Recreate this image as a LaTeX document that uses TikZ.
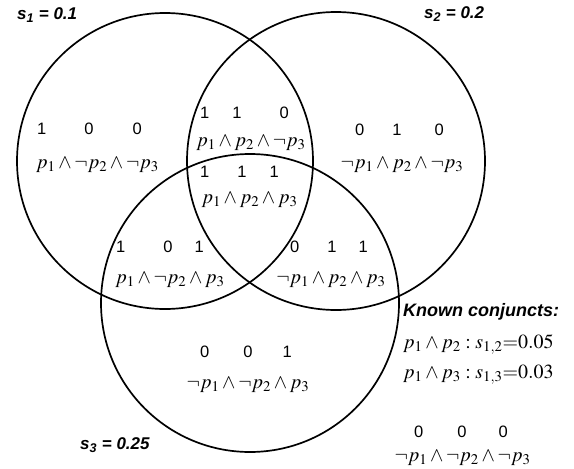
\documentclass[tikz,border=0pt]{standalone}
\usepackage{mathptmx}
\usepackage[no-math]{fontspec}
\setmainfont{Liberation Sans}

\tikzset{
  setcircle/.style={line width=1.7pt},
  bits/.style={inner sep=0pt, font=\fontsize{16.5}{18}\selectfont},
  conj/.style={inner sep=0pt, font=\fontsize{20}{22}\selectfont},
  setlabel/.style={inner sep=0pt, anchor=west, font=\fontsize{17}{19}\selectfont\bfseries\itshape},
}

\begin{document}
\begin{tikzpicture}[x=1pt, y=-1pt]
        % \draw[help lines, gray!50, very thin] (0,0) grid[step=50] (574,469);
        \useasboundingbox (0,0) rectangle (574,469);

        \draw[setcircle] (165,161) circle[radius=148pt];
        \draw[setcircle] (336,161) circle[radius=149pt];
        \draw[setcircle] (250,303) circle[radius=149pt];

        \node[setlabel] (lab1) at (17,15) {s\textsubscript{1} = 0.1};
        \node[setlabel] (lab2) at (424,14) {s\textsubscript{2} = 0.2};
        \node[setlabel] (lab3) at (80,445) {s\textsubscript{3} = 0.25};

        % only s1
        \node[bits] (d100) at (89.5,129) {1\hspace{38pt}0\hspace{39pt}0};
        \node[conj] (f100) at (97.5,165) {$p_1\wedge\neg p_2\wedge\neg p_3$};

        % s1 and s2
        \node[bits] (d110) at (244.5,113) {1\hspace{23pt}1\hspace{38pt}0};
        \node[conj] (f110) at (251,143) {$p_1\wedge p_2\wedge\neg p_3$};

        % all three
        \node[bits] (d111) at (239.5,172) {1\hspace{28pt}1\hspace{23pt}1};
        \node[conj] (f111) at (249.5,200) {$p_1\wedge p_2\wedge p_3$};

        % only s2
        \node[bits] (d010) at (399.5,130) {0\hspace{28pt}1\hspace{33pt}0};
        \node[conj] (f010) at (402,165) {$\neg p_1\wedge p_2\wedge\neg p_3$};

        % s1 and s3
        \node[bits] (d101) at (160,247) {1\hspace{38pt}0\hspace{22pt}1};
        \node[conj] (f101) at (170,280) {$p_1\wedge\neg p_2\wedge p_3$};

        % s2 and s3
        \node[bits] (d011) at (329,247) {0\hspace{28pt}1\hspace{22pt}1};
        \node[conj] (f011) at (331,280) {$\neg p_1\wedge p_2\wedge p_3$};

        % only s3
        \node[bits] (d001) at (246,352) {0\hspace{34pt}0\hspace{30pt}1};
        \node[conj] (f001) at (248,385) {$\neg p_1\wedge\neg p_2\wedge p_3$};

        % none
        \node[bits] (d000) at (461,432) {0\hspace{34pt}0\hspace{32pt}0};
        \node[conj] (f000) at (462.5,458) {$\neg p_1\wedge\neg p_2\wedge\neg p_3$};

        \node[inner sep=0pt, anchor=west, font=\fontsize{18}{20}\selectfont\bfseries\itshape] (known) at (403,312) {Known conjuncts:};
        \node[conj, anchor=west] (k12) at (403,345) {$p_1\wedge p_2 : s_{1,2}{=}0.05$};
        \node[conj, anchor=west] (k13) at (403,375) {$p_1\wedge p_3 : s_{1,3}{=}0.03$};
      \end{tikzpicture}
\end{document}
